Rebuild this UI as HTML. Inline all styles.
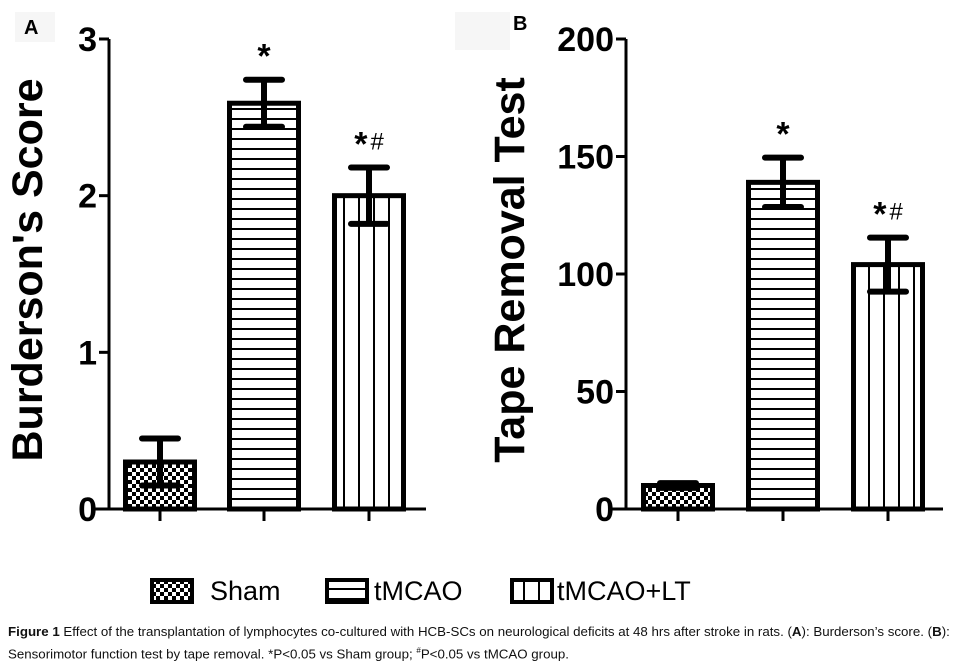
<!DOCTYPE html>
<html><head><meta charset="utf-8"><style>
html,body{margin:0;padding:0;background:#fff;width:965px;height:668px;overflow:hidden}
svg{position:absolute;left:0;top:0}
text{font-family:"Liberation Sans",Arial,sans-serif}
.cap{position:absolute;left:8px;font-family:"Liberation Sans",Arial,sans-serif;font-size:13.3px;color:#111;white-space:nowrap;transform:scaleX(1.0);transform-origin:left}
</style></head><body>
<svg id="fig" width="965" height="668">
<defs>
<pattern id="pChk" width="8" height="8" patternUnits="userSpaceOnUse"><rect width="8" height="8" fill="#fff"/><rect width="4" height="4" fill="#000"/><rect x="4" y="4" width="4" height="4" fill="#000"/></pattern>
<pattern id="pHor" width="10" height="10" patternUnits="userSpaceOnUse"><rect width="10" height="10" fill="#fff"/><rect y="8" width="10" height="2" fill="#000"/></pattern>
<pattern id="pVer" width="15" height="10" patternUnits="userSpaceOnUse"><rect width="15" height="10" fill="#fff"/><rect x="13" width="2" height="10" fill="#000"/></pattern>
</defs>
<rect x="15" y="12" width="40" height="30" fill="#f6f6f6"/>
<rect x="455" y="12" width="55" height="38" fill="#f6f6f6"/>
<text x="24" y="34" font-size="20" font-weight="bold">A</text>
<text x="513" y="30" font-size="20" font-weight="bold">B</text>
<g id="gA"></g><g id="gB"></g>
<g>
<rect x="152" y="580" width="40" height="22" fill="url(#pChk)" stroke="#000" stroke-width="4"/>
<text x="210" y="600" font-size="27">Sham</text>
<rect x="327" y="580" width="40" height="22" fill="url(#pHor)" stroke="#000" stroke-width="4"/>
<text x="374" y="600" font-size="27">tMCAO</text>
<rect x="512" y="580" width="40" height="22" fill="url(#pVer)" stroke="#000" stroke-width="4"/>
<text x="557" y="600" font-size="27">tMCAO+LT</text>
</g>
</svg>
<div class="cap" style="top:624px"><b>Figure 1</b> Effect of the transplantation of lymphocytes co-cultured with HCB-SCs on neurological deficits at 48 hrs after stroke in rats. (<b>A</b>): Burderson’s score. (<b>B</b>):</div>
<div class="cap" style="top:646px">Sensorimotor function test by tape removal. *P&lt;0.05 vs Sham group; <sup style="font-size:8px">#</sup>P&lt;0.05 vs tMCAO group.</div>
<script>
const categories = ["Sham","tMCAO","tMCAO+LT"];
const patterns = ["pChk","pHor","pVer"];
const annotations = ["","*","*#"];
const valuesA = [0.3, 2.59, 2.0];
const errA = [0.15, 0.15, 0.18];
const ticksA = [0,1,2,3];
const valuesB = [10, 139, 104];
const errB = [1, 10.5, 11.5];
const ticksB = [0,50,100,150,200];
const NS="http://www.w3.org/2000/svg";
function mk(p,t,a){const e=document.createElementNS(NS,t);for(const k in a)e.setAttribute(k,a[k]);p.appendChild(e);return e;}
function panel(gid,key,axX,centers,vals,errs,ticks,ymax,title,titleX,titleSize){
  const g=document.getElementById(gid);
  const y0=509,y1=39;
  const sy=v=>y0-(v/ymax)*(y0-y1);
  let e=mk(g,'line',{x1:axX,y1:y1,x2:axX,y2:y0,stroke:'#000','stroke-width':3});
  
  
  e=mk(g,'line',{x1:axX-14,y1:y0,x2:axX+317,y2:y0,stroke:'#000','stroke-width':3});
  
  
  ticks.forEach(t=>{
    const y=sy(t);
    let l=mk(g,'line',{x1:axX-10,y1:y,x2:axX,y2:y,stroke:'#000','stroke-width':3});
    
    
    let tx=mk(g,'text',{x:axX-12,y:y+12,'font-size':34,'font-weight':'bold','text-anchor':'end'});
    tx.textContent=t;
    
    
  });
  const tt=mk(g,'text',{x:titleX,y:270,'font-size':titleSize,'font-weight':'bold','text-anchor':'middle',transform:`rotate(-90 ${titleX} 270)`});
  tt.textContent=title;
  
  
  vals.forEach((v,i)=>{
    const cx=centers[i],w=69,top=sy(v);
    let xt=mk(g,'line',{x1:cx,y1:y0,x2:cx,y2:y0+12,stroke:'#000','stroke-width':3});
    
    
    let r=mk(g,'rect',{x:cx-w/2,y:top,width:w,height:y0-top,fill:`url(#${patterns[i]})`,stroke:'#000','stroke-width':5});
    
    
    const hi=sy(v+errs[i]),lo=sy(v-errs[i]);
    let eb=mk(g,'path',{d:`M${cx},${hi}V${lo}M${cx-18},${hi}H${cx+18}M${cx-18},${lo}H${cx+18}`,stroke:'#000','stroke-width':6,'stroke-linecap':'round',fill:'none'});
    
    
    if(annotations[i]){
      const a=mk(g,'text',{x:cx,y:hi-12,'font-size':34,'font-weight':'bold','text-anchor':'middle'});
      if(annotations[i]==='*'){a.textContent='*';}
      else{a.innerHTML='*<tspan font-size="24" font-weight="normal" dx="3" dy="-6">#</tspan>';}
      
      
    }
  });
}
panel('gA','panel-a',109,[160,264,369],valuesA,errA,ticksA,3,"Burderson's Score",42,43);
panel('gB','panel-b',626,[678,783,888],valuesB,errB,ticksB,200,"Tape Removal Test",524,43);
</script>
</body></html>
